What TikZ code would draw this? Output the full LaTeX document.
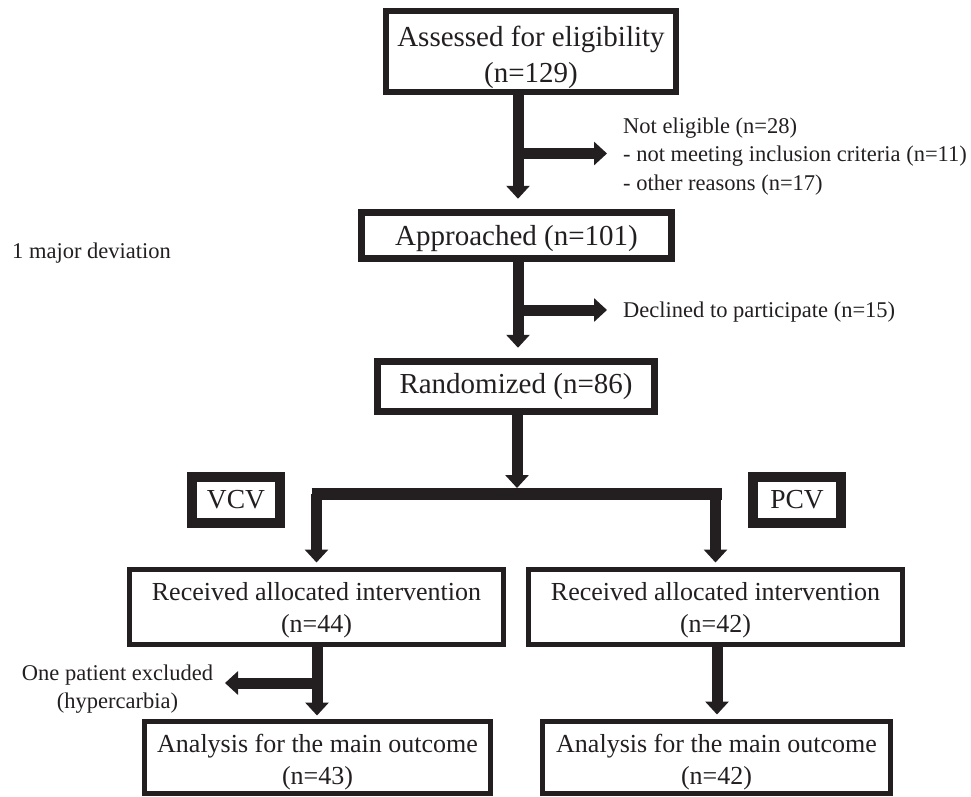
\documentclass[tikz,border=0pt]{standalone}
\usepackage{fontspec}
\setmainfont{Liberation Serif}
\usetikzlibrary{arrows.meta}
\definecolor{ink}{HTML}{231F20}
\begin{document}
\begin{tikzpicture}[x=1pt,y=-1pt,
  bigbox/.style={draw=ink, line width=6.5pt, inner sep=0pt, align=center, text=ink, font=\fontsize{29}{36}\selectfont},
  midbox/.style={draw=ink, line width=5pt, inner sep=0pt, align=center, text=ink, font=\fontsize{26}{32}\selectfont, minimum width=374pt, minimum height=75pt},
  armbox/.style={draw=ink, line width=10pt, inner sep=0pt, text=ink, font=\fontsize{27.5}{33}\selectfont, minimum width=88pt, minimum height=46pt},
  note/.style={inner sep=0pt, text=ink, font=\fontsize{22.5}{28.5}\selectfont},
  arr/.style={draw=ink, line width=11pt, -{Triangle[width=23pt,length=13pt]}},
  barline/.style={draw=ink, line width=12pt}]
\useasboundingbox (0,0) rectangle (971,796);

% boxes
\node[bigbox, minimum width=290pt, minimum height=81pt] (a) at (531,51.5) {\rule{0pt}{32pt}Assessed for eligibility\\(n=129)};
\node[bigbox, minimum width=310pt, minimum height=46pt] (ap) at (516.5,235.5) {\rule{0pt}{26pt}Approached (n=101)};
\node[bigbox, minimum width=277pt, minimum height=50pt] (r) at (516,386.5) {Randomized (n=86)};
\node[armbox] (vcv) at (236,500) {VCV};
\node[armbox] (pcv) at (797,500) {PCV};
\node[midbox] (rl) at (316.5,607) {\rule{0pt}{25pt}Received allocated intervention\\(n=44)};
\node[midbox] (rr) at (715.5,607) {\rule{0pt}{25pt}Received allocated intervention\\(n=42)};
\node[midbox, minimum width=346pt, minimum height=72pt] (al) at (317.5,757.5) {\rule{0pt}{28pt}Analysis for the main outcome\\(n=43)};
\node[midbox, minimum width=348pt, minimum height=72pt] (ar) at (716.5,757.5) {\rule{0pt}{28pt}Analysis for the main outcome\\(n=42)};

% notes
\node[note, align=left, anchor=north west] (ne) at (623,117.4) {Not eligible (n=28)\\- not meeting inclusion criteria (n=11)\\- other reasons (n=17)};
\node[note, anchor=base west] (dec) at (623,317) {Declined to participate (n=15)};
\node[note, align=center, anchor=north] (ex) at (117.5,664.4) {One patient excluded\\(hypercarbia)};
\node[note, anchor=base west] (dev) at (12,258) {1 major deviation};

% junction coordinates
\coordinate (j1) at (518,153.5);
\coordinate (e1) at (607,153.5);
\coordinate (j2) at (518,310);
\coordinate (e2) at (607,310);
\coordinate (j3) at (517,494);
\coordinate (bl) at (311.5,494);
\coordinate (br) at (722,494);
\coordinate (j4) at (317,683);
\coordinate (e4) at (225,683);
\coordinate (j5) at (717,683);

% connectors
\draw[arr, shorten >=10.5pt] (a.south -| j1) -- (ap.north -| j1);
\draw[arr] (j1) -- (e1);
\draw[arr, shorten >=10.5pt] (ap.south -| j2) -- (r.north -| j2);
\draw[arr] (j2) -- (e2);
\draw[arr, shorten >=6pt] (r.south -| j3) -- (j3);
\draw[barline] (bl) -- (br);
\draw[arr, shorten >=4.5pt] (bl -| rl.north) -- (rl.north);
\draw[arr, shorten >=4.5pt] (br -| rr.north) -- (rr.north);
\draw[arr, shorten >=3.5pt] (rl.south -| j4) -- (al.north -| j4);
\draw[arr] (j4) -- (e4);
\draw[arr, shorten >=4.5pt] (rr.south -| j5) -- (ar.north -| j5);
\end{tikzpicture}
\end{document}
